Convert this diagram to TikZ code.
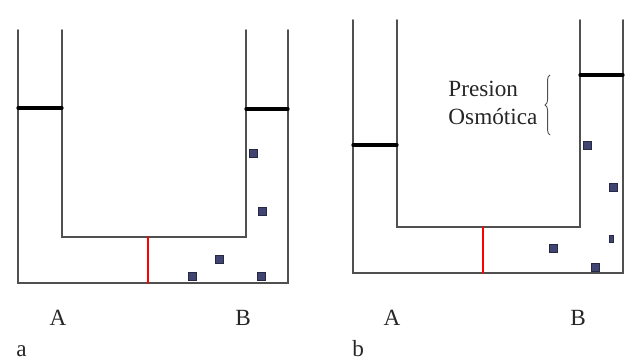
\documentclass[tikz,border=0pt]{standalone}
\usepackage{tikz}
\usepackage{tkz-euclide}
\usepackage{fontspec}
\setmainfont{Liberation Serif}
\usetikzlibrary{decorations.pathreplacing}

\definecolor{gris}{RGB}{80,80,80}
\definecolor{soluto}{RGB}{64,68,112}

\tikzset{
    pared/.style={draw=gris,line width=2.2pt},
    nivel/.style={draw=black,line width=4.6pt},
    membrana/.style={draw=red,line width=2.8pt},
    particula/.style={draw=soluto!60!black,fill=soluto,minimum size=0.42cm,inner sep=0pt,line width=0.6pt},
    letra/.style={font=\fontsize{33}{39}\selectfont,text=black!85}
}

\begin{document}
\begin{tikzpicture}[scale=0.5]
    \useasboundingbox (0,0) rectangle (63.2,36.2);
    % tubo a
    \tkzDefPoints{1.8/33.2/Ea,1.8/7.9/Fa,28.8/7.9/Ga,28.8/33.2/Ha,
      6.2/33.2/Ia,6.2/12.5/Ja,24.6/12.5/Ka,24.6/33.2/La,
      14.8/12.5/Ma,14.8/7.9/Na,
      1.8/25.4/Pa,6.2/25.4/Qa,24.6/25.3/Ra,28.8/25.3/Sa}
    \tkzDrawPolySeg[pared](Ea,Fa,Ga,Ha)
    \tkzDrawPolySeg[pared](Ia,Ja,Ka,La)
    \tkzDrawSegment[membrana](Ma,Na)
    \tkzDrawSegments[nivel](Pa,Qa Ra,Sa)
    \node[particula] (a1) at (25.3,20.9) {};
    \node[particula] (a2) at (26.2,15.1) {};
    \node[particula] (a3) at (21.9,10.3) {};
    \node[particula] (a4) at (19.2,8.6) {};
    \node[particula] (a5) at (26.1,8.6) {};
    \node[letra] (Aa) at (5.8,4.4) {A};
    \node[letra] (Ba) at (24.3,4.4) {B};
    \node[letra,anchor=base west] (na) at (1.4,0.5) {a};
    % tubo b
    \tkzDefPoints{35.3/34.2/Eb,35.3/8.9/Fb,62.3/8.9/Gb,62.3/34.2/Hb,
      39.7/34.2/Ib,39.7/13.5/Jb,58.0/13.5/Kb,58.0/34.2/Lb,
      48.3/13.5/Mb,48.3/8.9/Nb,
      35.3/21.7/Pb,39.7/21.7/Qb,58.0/28.7/Rb,62.3/28.7/Sb,
      55.0/22.7/Tb,55.0/28.7/Ub}
    \tkzDrawPolySeg[pared](Eb,Fb,Gb,Hb)
    \tkzDrawPolySeg[pared](Ib,Jb,Kb,Lb)
    \tkzDrawSegment[membrana](Mb,Nb)
    \tkzDrawSegments[nivel](Pb,Qb Rb,Sb)
    \node[particula] (b1) at (58.7,21.7) {};
    \node[particula] (b2) at (61.3,17.5) {};
    \node[particula] (b3) at (55.3,11.4) {};
    \node[particula] (b4) at (59.5,9.5) {};
    \node[particula,minimum width=0.18cm,minimum height=0.36cm] (b5) at (61.1,12.3) {};
    \draw[gris,line width=1.3pt,decorate,decoration={brace,amplitude=7pt}] (Tb) -- (Ub);
    \node[letra,align=left,anchor=west] (po) at (44.6,25.9) {Presion\\Osmótica};
    \node[letra] (Ab) at (39.2,4.4) {A};
    \node[letra] (Bb) at (57.8,4.4) {B};
    \node[letra,anchor=base west] (nb) at (35.0,0.5) {b};
\end{tikzpicture}
\end{document}
